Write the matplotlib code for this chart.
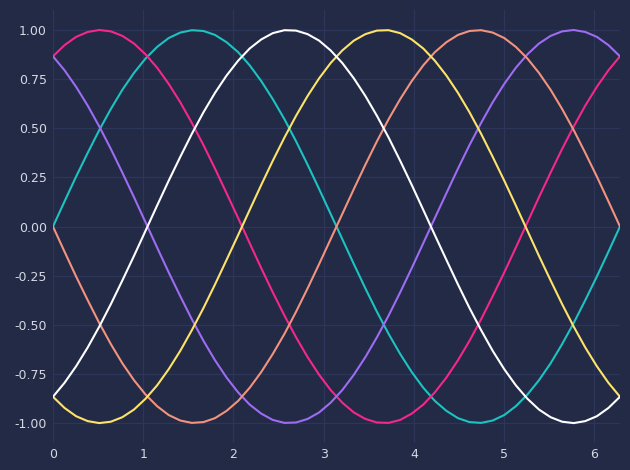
import matplotlib
matplotlib.use("Agg")
import matplotlib.pyplot as plt
from matplotlib.ticker import FormatStrFormatter, MultipleLocator

x = [0.000, 0.128, 0.256, 0.385, 0.513, 0.641, 0.769, 0.898, 1.026, 1.154,
     1.282, 1.411, 1.539, 1.667, 1.795, 1.923, 2.052, 2.180, 2.308, 2.436,
     2.565, 2.693, 2.821, 2.949, 3.077, 3.206, 3.334, 3.462, 3.590, 3.719,
     3.847, 3.975, 4.103, 4.231, 4.360, 4.488, 4.616, 4.744, 4.872, 5.001,
     5.129, 5.257, 5.385, 5.514, 5.642, 5.770, 5.898, 6.027, 6.155, 6.283]

teal = [0.000, 0.128, 0.254, 0.375, 0.491, 0.598, 0.696, 0.782, 0.855, 0.914,
        0.959, 0.987, 0.999, 0.995, 0.975, 0.938, 0.887, 0.820, 0.740, 0.648,
        0.546, 0.434, 0.315, 0.191, 0.064, -0.064, -0.191, -0.315, -0.434, -0.546,
        -0.648, -0.740, -0.820, -0.887, -0.938, -0.975, -0.995, -0.999, -0.987, -0.959,
        -0.914, -0.855, -0.782, -0.696, -0.598, -0.491, -0.375, -0.254, -0.128, 0.000]

pink = [0.866, 0.923, 0.965, 0.990, 1.000, 0.993, 0.970, 0.931, 0.876, 0.808,
        0.726, 0.632, 0.527, 0.415, 0.295, 0.170, 0.043, -0.085, -0.212, -0.335,
        -0.453, -0.563, -0.664, -0.754, -0.832, -0.896, -0.946, -0.979, -0.997, -0.999,
        -0.984, -0.952, -0.906, -0.844, -0.768, -0.680, -0.581, -0.472, -0.355, -0.233,
        -0.107, 0.021, 0.149, 0.274, 0.395, 0.509, 0.615, 0.711, 0.795, 0.866]

purple = [0.866, 0.795, 0.711, 0.615, 0.509, 0.395, 0.274, 0.149, 0.021, -0.107,
          -0.233, -0.355, -0.472, -0.581, -0.680, -0.768, -0.844, -0.906, -0.952, -0.984,
          -0.999, -0.997, -0.979, -0.946, -0.896, -0.832, -0.754, -0.664, -0.563, -0.453,
          -0.335, -0.212, -0.085, 0.043, 0.170, 0.295, 0.415, 0.527, 0.632, 0.726,
          0.808, 0.876, 0.931, 0.970, 0.993, 1.000, 0.990, 0.965, 0.923, 0.866]

orange = [0.000, -0.128, -0.254, -0.375, -0.491, -0.598, -0.696, -0.782, -0.855, -0.914,
          -0.959, -0.987, -0.999, -0.995, -0.975, -0.938, -0.887, -0.820, -0.740, -0.648,
          -0.546, -0.434, -0.315, -0.191, -0.064, 0.064, 0.191, 0.315, 0.434, 0.546,
          0.648, 0.740, 0.820, 0.887, 0.938, 0.975, 0.995, 0.999, 0.987, 0.959,
          0.914, 0.855, 0.782, 0.696, 0.598, 0.491, 0.375, 0.254, 0.128, 0.000]

yellow = [-0.866, -0.923, -0.965, -0.990, -1.000, -0.993, -0.970, -0.931, -0.876, -0.808,
          -0.726, -0.632, -0.527, -0.415, -0.295, -0.170, -0.043, 0.085, 0.212, 0.335,
          0.453, 0.563, 0.664, 0.754, 0.832, 0.896, 0.946, 0.979, 0.997, 0.999,
          0.984, 0.952, 0.906, 0.844, 0.768, 0.680, 0.581, 0.472, 0.355, 0.233,
          0.107, -0.021, -0.149, -0.274, -0.395, -0.509, -0.615, -0.711, -0.795, -0.866]

white = [-0.866, -0.795, -0.711, -0.615, -0.509, -0.395, -0.274, -0.149, -0.021, 0.107,
         0.233, 0.355, 0.472, 0.581, 0.680, 0.768, 0.844, 0.906, 0.952, 0.984,
         0.999, 0.997, 0.979, 0.946, 0.896, 0.832, 0.754, 0.664, 0.563, 0.453,
         0.335, 0.212, 0.085, -0.043, -0.170, -0.295, -0.415, -0.527, -0.632, -0.726,
         -0.808, -0.876, -0.931, -0.970, -0.993, -1.000, -0.990, -0.965, -0.923, -0.866]

series = [teal, pink, purple, orange, yellow, white]
colors = ["#1cc3c1", "#f5278c", "#9d6cf2", "#f3937d", "#fde36a", "#ffffff"]

bg = "#222a46"
grid_c = "#2c365a"
text_c = "#d6d8e4"

plt.rcParams['font.family'] = ['DejaVu Sans']
fig = plt.figure(figsize=(6.3, 4.7), dpi=100, facecolor=bg)
ax = fig.add_axes([0.0841, 0.058, 0.9000, 0.920])
ax.set_facecolor(bg)

for ys, c in zip(series, colors):
    ax.plot(x, ys, color=c, lw=1.5)

ax.set_xlim(x[0], x[-1])
ax.set_ylim(-1.1, 1.1)
ax.yaxis.set_major_locator(MultipleLocator(0.25))
ax.yaxis.set_major_formatter(FormatStrFormatter('%.2f'))
ax.xaxis.set_major_locator(MultipleLocator(1))

ax.grid(True, color=grid_c, lw=0.9)
ax.set_axisbelow(True)
for s in ax.spines.values():
    s.set_visible(False)
ax.tick_params(length=0, colors=text_c, labelsize=9)
ax.tick_params(axis='y', pad=4.5)
ax.tick_params(axis='x', pad=4)

fig.savefig("out.png", dpi=100, facecolor=bg)
